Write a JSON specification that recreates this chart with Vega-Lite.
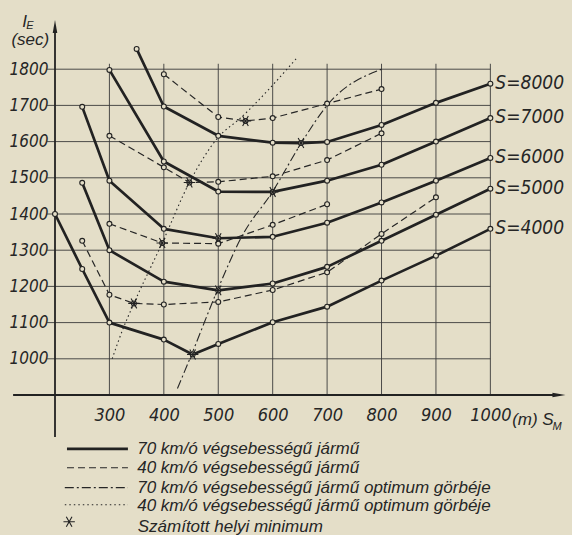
{
  "$schema": "https://vega.github.io/schema/vega-lite/v6.json",
  "width": 517,
  "height": 362,
  "autosize": {"type": "none"},
  "padding": {"left": 55, "top": 33, "right": 0, "bottom": 140},
  "background": "#e4dec8",
  "config": {
    "view": {"stroke": null},
    "axis": {"domain": false, "ticks": false, "grid": false, "title": null, "format": "d", "labelColor": "#262626", "labelFontStyle": "italic", "labelFont": "Liberation Sans Narrow, DejaVu Sans Condensed, Liberation Sans, sans-serif"},
    "axisY": {"labelFontSize": 17, "labelPadding": 7},
    "axisX": {"labelFontSize": 18, "labelPadding": 11}
  },
  "datasets": {
    "hgrid": [{"y": 1000}, {"y": 1100}, {"y": 1200}, {"y": 1300}, {"y": 1400}, {"y": 1500}, {"y": 1600}, {"y": 1700}, {"y": 1800}],
    "vgrid": [{"x": 300}, {"x": 400}, {"x": 500}, {"x": 600}, {"x": 700}, {"x": 800}, {"x": 900}, {"x": 1000}],
    "axes": [{"x1": 123, "x2": 1128, "y1": 900, "y2": 900}, {"x1": 200, "x2": 200, "y1": 784, "y2": 1918}],
    "arrows": [{"x": 1126, "y": 900, "dir": "right"}, {"x": 200, "y": 1918, "dir": "up"}],
    "curves": [
      {"curve": "S4000", "style": "70", "x": 200, "y": 1400, "m": "c"},
      {"curve": "S4000", "style": "70", "x": 250, "y": 1248, "m": "c"},
      {"curve": "S4000", "style": "70", "x": 300, "y": 1100, "m": "c"},
      {"curve": "S4000", "style": "70", "x": 400, "y": 1053, "m": "c"},
      {"curve": "S4000", "style": "70", "x": 453, "y": 1012, "m": "star"},
      {"curve": "S4000", "style": "70", "x": 500, "y": 1041, "m": "c"},
      {"curve": "S4000", "style": "70", "x": 600, "y": 1101, "m": "c"},
      {"curve": "S4000", "style": "70", "x": 700, "y": 1144, "m": "c"},
      {"curve": "S4000", "style": "70", "x": 800, "y": 1216, "m": "c"},
      {"curve": "S4000", "style": "70", "x": 900, "y": 1285, "m": "c"},
      {"curve": "S4000", "style": "70", "x": 1000, "y": 1359, "m": "c"},
      {"curve": "S5000", "style": "70", "x": 250, "y": 1486, "m": "c"},
      {"curve": "S5000", "style": "70", "x": 300, "y": 1300, "m": "c"},
      {"curve": "S5000", "style": "70", "x": 400, "y": 1213, "m": "c"},
      {"curve": "S5000", "style": "70", "x": 500, "y": 1189, "m": "star"},
      {"curve": "S5000", "style": "70", "x": 600, "y": 1208, "m": "c"},
      {"curve": "S5000", "style": "70", "x": 700, "y": 1254, "m": "c"},
      {"curve": "S5000", "style": "70", "x": 800, "y": 1326, "m": "c"},
      {"curve": "S5000", "style": "70", "x": 900, "y": 1398, "m": "c"},
      {"curve": "S5000", "style": "70", "x": 1000, "y": 1470, "m": "c"},
      {"curve": "S6000", "style": "70", "x": 250, "y": 1696, "m": "c"},
      {"curve": "S6000", "style": "70", "x": 300, "y": 1492, "m": "c"},
      {"curve": "S6000", "style": "70", "x": 400, "y": 1359, "m": "c"},
      {"curve": "S6000", "style": "70", "x": 500, "y": 1333, "m": "star"},
      {"curve": "S6000", "style": "70", "x": 600, "y": 1337, "m": "c"},
      {"curve": "S6000", "style": "70", "x": 700, "y": 1376, "m": "c"},
      {"curve": "S6000", "style": "70", "x": 800, "y": 1432, "m": "c"},
      {"curve": "S6000", "style": "70", "x": 900, "y": 1492, "m": "c"},
      {"curve": "S6000", "style": "70", "x": 1000, "y": 1555, "m": "c"},
      {"curve": "S7000", "style": "70", "x": 300, "y": 1798, "m": "c"},
      {"curve": "S7000", "style": "70", "x": 400, "y": 1545, "m": "c"},
      {"curve": "S7000", "style": "70", "x": 500, "y": 1462, "m": "c"},
      {"curve": "S7000", "style": "70", "x": 600, "y": 1461, "m": "star"},
      {"curve": "S7000", "style": "70", "x": 700, "y": 1492, "m": "c"},
      {"curve": "S7000", "style": "70", "x": 800, "y": 1536, "m": "c"},
      {"curve": "S7000", "style": "70", "x": 900, "y": 1600, "m": "c"},
      {"curve": "S7000", "style": "70", "x": 1000, "y": 1665, "m": "c"},
      {"curve": "S8000", "style": "70", "x": 350, "y": 1856, "m": "c"},
      {"curve": "S8000", "style": "70", "x": 400, "y": 1697, "m": "c"},
      {"curve": "S8000", "style": "70", "x": 500, "y": 1616, "m": "c"},
      {"curve": "S8000", "style": "70", "x": 600, "y": 1597, "m": "c"},
      {"curve": "S8000", "style": "70", "x": 652, "y": 1596, "m": "star"},
      {"curve": "S8000", "style": "70", "x": 700, "y": 1599, "m": "c"},
      {"curve": "S8000", "style": "70", "x": 800, "y": 1646, "m": "c"},
      {"curve": "S8000", "style": "70", "x": 900, "y": 1707, "m": "c"},
      {"curve": "S8000", "style": "70", "x": 1000, "y": 1760, "m": "c"},
      {"curve": "D8000", "style": "40", "x": 400, "y": 1786, "m": "c"},
      {"curve": "D8000", "style": "40", "x": 500, "y": 1668, "m": "c"},
      {"curve": "D8000", "style": "40", "x": 550, "y": 1657, "m": "star"},
      {"curve": "D8000", "style": "40", "x": 600, "y": 1665, "m": "c"},
      {"curve": "D8000", "style": "40", "x": 700, "y": 1705, "m": "c"},
      {"curve": "D8000", "style": "40", "x": 800, "y": 1745, "m": "c"},
      {"curve": "D7000", "style": "40", "x": 300, "y": 1616, "m": "c"},
      {"curve": "D7000", "style": "40", "x": 400, "y": 1529, "m": "c"},
      {"curve": "D7000", "style": "40", "x": 447, "y": 1487, "m": "star"},
      {"curve": "D7000", "style": "40", "x": 500, "y": 1489, "m": "c"},
      {"curve": "D7000", "style": "40", "x": 600, "y": 1504, "m": "c"},
      {"curve": "D7000", "style": "40", "x": 700, "y": 1549, "m": "c"},
      {"curve": "D7000", "style": "40", "x": 800, "y": 1623, "m": "c"},
      {"curve": "D6000", "style": "40", "x": 300, "y": 1373, "m": "c"},
      {"curve": "D6000", "style": "40", "x": 397, "y": 1320, "m": "star"},
      {"curve": "D6000", "style": "40", "x": 500, "y": 1318, "m": "c"},
      {"curve": "D6000", "style": "40", "x": 600, "y": 1370, "m": "c"},
      {"curve": "D6000", "style": "40", "x": 700, "y": 1427, "m": "c"},
      {"curve": "D5000", "style": "40", "x": 250, "y": 1326, "m": "c"},
      {"curve": "D5000", "style": "40", "x": 300, "y": 1177, "m": "c"},
      {"curve": "D5000", "style": "40", "x": 345, "y": 1153, "m": "star"},
      {"curve": "D5000", "style": "40", "x": 400, "y": 1150, "m": "c"},
      {"curve": "D5000", "style": "40", "x": 500, "y": 1157, "m": "c"},
      {"curve": "D5000", "style": "40", "x": 600, "y": 1190, "m": "c"},
      {"curve": "D5000", "style": "40", "x": 700, "y": 1239, "m": "c"},
      {"curve": "D5000", "style": "40", "x": 800, "y": 1345, "m": "c"},
      {"curve": "D5000", "style": "40", "x": 900, "y": 1446, "m": "c"},
      {"curve": "O70", "style": "opt70", "x": 425, "y": 918, "m": "none"},
      {"curve": "O70", "style": "opt70", "x": 451, "y": 1012, "m": "none"},
      {"curve": "O70", "style": "opt70", "x": 498, "y": 1188, "m": "none"},
      {"curve": "O70", "style": "opt70", "x": 544, "y": 1340, "m": "none"},
      {"curve": "O70", "style": "opt70", "x": 599, "y": 1460, "m": "none"},
      {"curve": "O70", "style": "opt70", "x": 653, "y": 1597, "m": "none"},
      {"curve": "O70", "style": "opt70", "x": 700, "y": 1700, "m": "none"},
      {"curve": "O70", "style": "opt70", "x": 800, "y": 1800, "m": "none"},
      {"curve": "O40", "style": "opt40", "x": 305, "y": 1000, "m": "none"},
      {"curve": "O40", "style": "opt40", "x": 325, "y": 1083, "m": "none"},
      {"curve": "O40", "style": "opt40", "x": 345, "y": 1153, "m": "none"},
      {"curve": "O40", "style": "opt40", "x": 397, "y": 1320, "m": "none"},
      {"curve": "O40", "style": "opt40", "x": 447, "y": 1487, "m": "none"},
      {"curve": "O40", "style": "opt40", "x": 500, "y": 1612, "m": "none"},
      {"curve": "O40", "style": "opt40", "x": 540, "y": 1664, "m": "none"},
      {"curve": "O40", "style": "opt40", "x": 645, "y": 1832, "m": "none"},
      {"curve": "L70", "style": "70", "x": 222, "y": 751, "m": "none"},
      {"curve": "L70", "style": "70", "x": 334, "y": 751, "m": "none"},
      {"curve": "L40", "style": "40", "x": 222, "y": 699, "m": "none"},
      {"curve": "L40", "style": "40", "x": 334, "y": 699, "m": "none"},
      {"curve": "LO70", "style": "opt70", "x": 218, "y": 644, "m": "none"},
      {"curve": "LO70", "style": "opt70", "x": 334, "y": 644, "m": "none"},
      {"curve": "LO40", "style": "opt40", "x": 218, "y": 597, "m": "none"},
      {"curve": "LO40", "style": "opt40", "x": 334, "y": 597, "m": "none"},
      {"curve": "LS", "style": "none", "x": 226, "y": 550, "m": "legstar"}
    ],
    "slabels": [
      {"label": "S=8000", "x": 1000, "y": 1762},
      {"label": "S=7000", "x": 1000, "y": 1667},
      {"label": "S=6000", "x": 1000, "y": 1557},
      {"label": "S=5000", "x": 1000, "y": 1472},
      {"label": "S=4000", "x": 1000, "y": 1361}
    ],
    "legtext": [
      {"t": "70 km/ó  végsebességű jármű", "x": 351, "y": 751},
      {"t": "40 km/ó  végsebességű jármű", "x": 351, "y": 699},
      {"t": "70 km/ó  végsebességű jármű  optimum görbéje", "x": 351, "y": 644},
      {"t": "40 km/ó  végsebességű jármű optimum görbéje", "x": 351, "y": 594},
      {"t": "Számított helyi minimum", "x": 352, "y": 534}
    ],
    "bigtext": [
      {"t": "I", "x": 140, "y": 1916},
      {"t": "(sec)", "x": 120, "y": 1866},
      {"t": "(m) S", "x": 1040, "y": 818}
    ],
    "smalltext": [
      {"t": "E", "x": 147, "y": 1911},
      {"t": "M", "x": 1114, "y": 803}
    ]
  },
  "layer": [
    {
      "data": {"name": "hgrid"},
      "mark": {"type": "rule", "color": "#3a3a3a", "strokeWidth": 0.9},
      "encoding": {
        "x": {"datum": 185, "type": "quantitative", "scale": {"domain": [200, 1150], "nice": false, "zero": false}, "axis": {"values": [300, 400, 500, 600, 700, 800, 900, 1000]}},
        "x2": {"datum": 1000},
        "y": {"field": "y", "type": "quantitative", "scale": {"domain": [900, 1900], "nice": false, "zero": false},
              "axis": {"values": [1000, 1100, 1200, 1300, 1400, 1500, 1600, 1700, 1800]}}
      }
    },
    {
      "data": {"name": "vgrid"},
      "mark": {"type": "rule", "color": "#3a3a3a", "strokeWidth": 0.9},
      "encoding": {
        "x": {"field": "x", "type": "quantitative", "title": null},
        "y": {"datum": 900, "type": "quantitative", "title": null},
        "y2": {"datum": 1815}
      }
    },
    {
      "data": {"name": "axes"},
      "mark": {"type": "rule", "color": "#222222", "strokeWidth": 1.8},
      "encoding": {
        "x": {"field": "x1", "type": "quantitative", "title": null},
        "x2": {"field": "x2"},
        "y": {"field": "y1", "type": "quantitative", "title": null},
        "y2": {"field": "y2"}
      }
    },
    {
      "data": {"name": "arrows"},
      "mark": {"type": "point", "filled": true, "color": "#222222", "opacity": 1, "size": 170},
      "encoding": {
        "x": {"field": "x", "type": "quantitative", "title": null},
        "y": {"field": "y", "type": "quantitative", "title": null},
        "shape": {"field": "dir", "type": "nominal", "legend": null,
                  "scale": {"domain": ["up", "right"], "range": ["M0,-1L0.35,1L-0.35,1Z", "M1,0L-1,-0.35L-1,0.35Z"]}}
      }
    },
    {
      "data": {"name": "curves"},
      "transform": [{"filter": "datum.style === '70'"}],
      "mark": {"type": "line", "color": "#222222", "strokeWidth": 2.7, "strokeJoin": "round"},
      "encoding": {
        "x": {"field": "x", "type": "quantitative", "title": null},
        "y": {"field": "y", "type": "quantitative", "title": null},
        "detail": {"field": "curve"},
        "order": {"field": "x", "type": "quantitative"}
      }
    },
    {
      "data": {"name": "curves"},
      "transform": [{"filter": "datum.style === '40'"}],
      "mark": {"type": "line", "color": "#262626", "strokeWidth": 1.2, "strokeDash": [7, 4]},
      "encoding": {
        "x": {"field": "x", "type": "quantitative", "title": null},
        "y": {"field": "y", "type": "quantitative", "title": null},
        "detail": {"field": "curve"},
        "order": {"field": "x", "type": "quantitative"}
      }
    },
    {
      "data": {"name": "curves"},
      "transform": [{"filter": "datum.style === 'opt70'"}],
      "mark": {"type": "line", "color": "#262626", "strokeWidth": 1.1, "strokeDash": [9, 3, 2, 3], "interpolate": "monotone"},
      "encoding": {
        "x": {"field": "x", "type": "quantitative", "title": null},
        "y": {"field": "y", "type": "quantitative", "title": null},
        "detail": {"field": "curve"},
        "order": {"field": "x", "type": "quantitative"}
      }
    },
    {
      "data": {"name": "curves"},
      "transform": [{"filter": "datum.style === 'opt40'"}],
      "mark": {"type": "line", "color": "#262626", "strokeWidth": 1.1, "strokeDash": [1.5, 3], "interpolate": "monotone"},
      "encoding": {
        "x": {"field": "x", "type": "quantitative", "title": null},
        "y": {"field": "y", "type": "quantitative", "title": null},
        "detail": {"field": "curve"},
        "order": {"field": "x", "type": "quantitative"}
      }
    },
    {
      "data": {"name": "curves"},
      "transform": [{"filter": "datum.m === 'c' || datum.m === 'star'"}],
      "mark": {"type": "point", "shape": "circle", "size": 24, "filled": true, "fill": "#e4dec8", "stroke": "#222222", "strokeWidth": 1.1, "opacity": 1},
      "encoding": {
        "x": {"field": "x", "type": "quantitative", "title": null},
        "y": {"field": "y", "type": "quantitative", "title": null}
      }
    },
    {
      "data": {"name": "curves"},
      "transform": [{"filter": "datum.m === 'star' || datum.m === 'legstar'"}],
      "mark": {"type": "point", "shape": "M-1,0L1,0M-0.5,-0.87L0.5,0.87M-0.5,0.87L0.5,-0.87", "size": 130, "filled": false, "stroke": "#222222", "strokeWidth": 1.1, "opacity": 1},
      "encoding": {
        "x": {"field": "x", "type": "quantitative", "title": null},
        "y": {"field": "y", "type": "quantitative", "title": null}
      }
    },
    {
      "data": {"name": "slabels"},
      "mark": {"type": "text", "align": "left", "baseline": "middle", "dx": 5, "fontSize": 19, "fontStyle": "italic", "color": "#262626", "font": "Liberation Sans Narrow, DejaVu Sans Condensed, Liberation Sans, sans-serif"},
      "encoding": {
        "x": {"field": "x", "type": "quantitative", "title": null},
        "y": {"field": "y", "type": "quantitative", "title": null},
        "text": {"field": "label"}
      }
    },
    {
      "data": {"name": "legtext"},
      "mark": {"type": "text", "align": "left", "baseline": "middle", "fontSize": 17, "fontStyle": "italic", "color": "#262626", "font": "Liberation Sans, sans-serif"},
      "encoding": {
        "x": {"field": "x", "type": "quantitative", "title": null},
        "y": {"field": "y", "type": "quantitative", "title": null},
        "text": {"field": "t"}
      }
    },
    {
      "data": {"name": "bigtext"},
      "mark": {"type": "text", "align": "left", "baseline": "alphabetic", "fontSize": 17, "fontStyle": "italic", "color": "#262626", "font": "Liberation Sans, sans-serif"},
      "encoding": {
        "x": {"field": "x", "type": "quantitative", "title": null},
        "y": {"field": "y", "type": "quantitative", "title": null},
        "text": {"field": "t"}
      }
    },
    {
      "data": {"name": "smalltext"},
      "mark": {"type": "text", "align": "left", "baseline": "alphabetic", "fontSize": 11, "fontStyle": "italic", "color": "#262626", "font": "Liberation Sans, sans-serif"},
      "encoding": {
        "x": {"field": "x", "type": "quantitative", "title": null},
        "y": {"field": "y", "type": "quantitative", "title": null},
        "text": {"field": "t"}
      }
    }
  ]
}
